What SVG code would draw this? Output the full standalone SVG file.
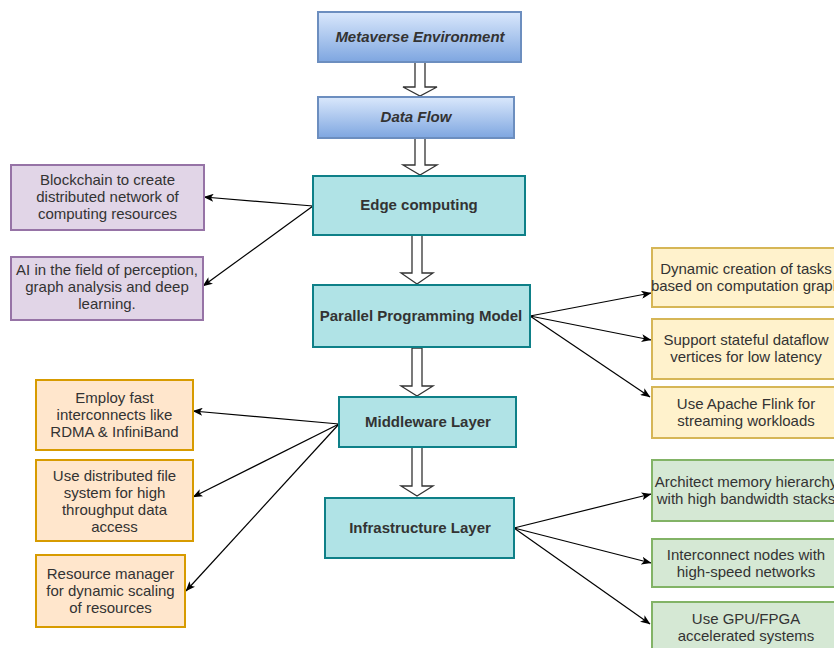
<svg xmlns="http://www.w3.org/2000/svg" width="834" height="648" viewBox="0 0 834 648">
<defs>
<linearGradient id="blueGrad" x1="0" y1="0" x2="0" y2="1">
<stop offset="0" stop-color="#dae8fc"/>
<stop offset="1" stop-color="#7ea6e0"/>
</linearGradient>
<marker id="arr" viewBox="0 0 10 8" refX="9.5" refY="4" markerWidth="10" markerHeight="8" markerUnits="userSpaceOnUse" orient="auto">
<path d="M0,0 L10,4 L0,8 L2.5,4 Z" fill="#000"/>
</marker>
<style>
text{font-family:"Liberation Sans",Arial,sans-serif;font-size:15px;fill:#333333;text-anchor:middle}
.b{font-weight:bold}
.i{font-style:italic}
.blue{fill:url(#blueGrad);stroke:#6c8ebf;stroke-width:2}
.teal{fill:#b0e3e6;stroke:#0e8088;stroke-width:2}
.purple{fill:#e1d5e7;stroke:#9673a6;stroke-width:2}
.yellow{fill:#fff2cc;stroke:#d6b656;stroke-width:2}
.green{fill:#d5e8d4;stroke:#82b366;stroke-width:2}
.orange{fill:#ffe6cc;stroke:#d79b00;stroke-width:2}
.block{fill:#ffffff;stroke:#333333;stroke-width:1.3}
.line{fill:none;stroke:#000;stroke-width:1.2;marker-end:url(#arr)}
</style>
</defs>
<rect width="834" height="648" fill="#ffffff"/>

<g id="connectors">
<polygon class="block" points="415,62 425,62 425,87 437,87 420,96 403,87 415,87"/>
<polygon class="block" points="415,138 425,138 425,165 437,165 420,175 403,165 415,165"/>
<polygon class="block" points="412,235 422,235 422,273 433,273 417,284 401,273 412,273"/>
<polygon class="block" points="412,348 422,348 422,386 433,386 417,396 401,386 412,386"/>
<polygon class="block" points="412,447 422,447 422,486 433,486 417,496 401,486 412,486"/>
<path class="line" d="M313,206 L204,197"/>
<path class="line" d="M313,206 L203,286"/>
<path class="line" d="M530,316 L651,293"/>
<path class="line" d="M530,316 L651,340"/>
<path class="line" d="M530,316 L650,397"/>
<path class="line" d="M514,528 L651,494"/>
<path class="line" d="M514,528 L651,563"/>
<path class="line" d="M514,528 L650,624"/>
<path class="line" d="M339,424 L193,411"/>
<path class="line" d="M339,424 L193,497"/>
<path class="line" d="M339,424 L186,591"/>
</g>

<g id="metaverse"><rect class="blue" x="318" y="12" width="203" height="50"/><text class="b i" x="420" y="42">Metaverse Environment</text></g>
<g id="dataflow"><rect class="blue" x="318" y="97" width="196" height="41"/><text class="b i" x="416" y="122">Data Flow</text></g>
<g id="edge"><rect class="teal" x="313" y="176" width="212" height="59"/><text class="b" x="419" y="210">Edge computing</text></g>
<g id="parallel"><rect class="teal" x="313" y="285" width="217" height="62"/><text class="b" x="421" y="321">Parallel Programming Model</text></g>
<g id="middleware"><rect class="teal" x="339" y="397" width="177" height="50"/><text class="b" x="428" y="427">Middleware Layer</text></g>
<g id="infra"><rect class="teal" x="325" y="498" width="189" height="60"/><text class="b" x="420" y="533">Infrastructure Layer</text></g>

<g id="blockchain"><rect class="purple" x="11" y="165" width="193" height="65"/>
<text x="107.5" y="185">Blockchain to create</text><text x="107.5" y="202">distributed network of</text><text x="107.5" y="219">computing resources</text></g>
<g id="ai"><rect class="purple" x="11" y="257" width="192" height="63"/>
<text x="107" y="275">AI in the field of perception,</text><text x="107" y="292">graph analysis and deep</text><text x="107" y="309">learning.</text></g>

<g id="dynamic"><rect class="yellow" x="652" y="248" width="190" height="59"/>
<text x="746" y="274">Dynamic creation of tasks</text><text x="746" y="291">based on computation graph</text></g>
<g id="stateful"><rect class="yellow" x="652" y="319" width="190" height="60"/>
<text x="746" y="345">Support stateful dataflow</text><text x="746" y="362">vertices for low latency</text></g>
<g id="flink"><rect class="yellow" x="652" y="387" width="190" height="51"/>
<text x="746" y="409">Use Apache Flink for</text><text x="746" y="426">streaming workloads</text></g>

<g id="memory"><rect class="green" x="652" y="460" width="190" height="61"/>
<text x="746" y="487">Architect memory hierarchy</text><text x="746" y="504">with high bandwidth stacks</text></g>
<g id="interconnect"><rect class="green" x="652" y="539" width="190" height="48"/>
<text x="746" y="560">Interconnect nodes with</text><text x="746" y="577">high-speed networks</text></g>
<g id="gpu"><rect class="green" x="652" y="602" width="190" height="52"/>
<text x="746" y="624">Use GPU/FPGA</text><text x="746" y="641">accelerated systems</text></g>

<g id="employ"><rect class="orange" x="36" y="380" width="157" height="70"/>
<text x="114.5" y="403">Employ fast</text><text x="114.5" y="420">interconnects like</text><text x="114.5" y="437">RDMA &amp; InfiniBand</text></g>
<g id="dfs"><rect class="orange" x="36" y="460" width="157" height="81"/>
<text x="114.5" y="481">Use distributed file</text><text x="114.5" y="498">system for high</text><text x="114.5" y="515">throughput data</text><text x="114.5" y="532">access</text></g>
<g id="resource"><rect class="orange" x="36" y="555" width="149" height="72"/>
<text x="110.5" y="579">Resource manager</text><text x="110.5" y="596">for dynamic scaling</text><text x="110.5" y="613">of resources</text></g>
</svg>
